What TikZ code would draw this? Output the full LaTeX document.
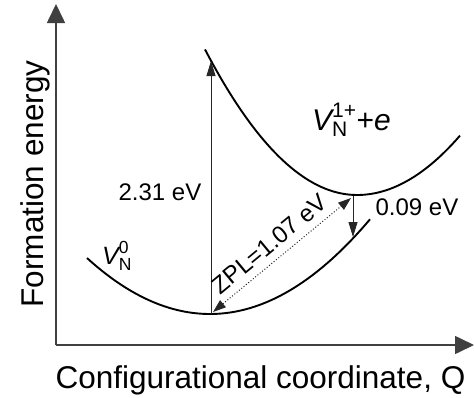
\documentclass[tikz,border=0pt]{standalone}
\usepackage{amsmath}
\usepackage{fontspec}
\setmainfont{Liberation Sans}
\usetikzlibrary{arrows.meta}
\definecolor{axisgray}{HTML}{404040}
\tikzset{
  axis/.style={line width=1.6pt, draw=axisgray, -{Triangle[length=19pt,width=18pt]}},
  curve/.style={line width=1.9pt, black},
  thinarrow/.style={line width=0.9pt, draw=black!85, -{Triangle[length=15pt,width=9pt]}},
  zplarrow/.style={line width=1pt, dotted, draw=black!85, {Triangle[length=13pt,width=9pt]}-{Triangle[length=13pt,width=9pt]}},
  biglabel/.style={font=\fontsize{31.5}{36}\selectfont, inner sep=0pt},
  vallabel/.style={font=\fontsize{24}{28}\selectfont, inner sep=0pt},
}
\begin{document}
\begin{tikzpicture}[x=1pt,y=-1pt]
\useasboundingbox (0,0) rectangle (474,397);
% axes
\coordinate (origin) at (56,345);
\coordinate (ytop) at (56,4);
\coordinate (xend) at (474,345);
\draw[axis] (origin) -- (ytop);
\draw[axis] (origin) -- (xend);
\node[biglabel, anchor=base] (xlab) at (260.5,388) {Configurational coordinate, Q};
\node[biglabel, anchor=base, rotate=90] (ylab) at (43,184) {Formation energy};
% curves
\draw[curve] plot[domain=87:370, samples=60, variable=\x] ({\x},{314-0.37*((\x-210)/10)^2});
\draw[curve] plot[domain=205:357, samples=40, variable=\x] ({\x},{195-0.63*((\x-357)/10)^2})
  -- plot[domain=357:460, samples=30, variable=\x] ({\x},{195-0.56*((\x-357)/10)^2});
% key points
\coordinate (lowmin) at (211,314);
\coordinate (upabs) at (211,61);
\coordinate (upmin) at (353,196);
\coordinate (lowrel) at (353,237);
\coordinate (zpllow) at (213,312);
\coordinate (zplup) at (351,198);
% arrows
\draw[thinarrow] (lowmin) -- (upabs);
\draw[thinarrow] (upmin) -- (lowrel);
\draw[zplarrow] (zpllow) -- (zplup);
% labels
\node[vallabel] (abs) at (160,192) {2.31 eV};
\node[vallabel] (rel) at (417,207) {0.09 eV};
\node[vallabel, rotate=39.6] (zpl) at (269.5,244) {ZPL=1.07 eV};
\node[font=\fontsize{30}{34}\selectfont, inner sep=0pt, anchor=base west] (vn1) at (312,130)
  {$\textit{V}^{\text{1+}}_{\text{N}}$+\textit{e}};
\node[font=\fontsize{25}{30}\selectfont, inner sep=0pt, anchor=base west] (vn0) at (102,264)
  {$\textit{V}^{\text{0}}_{\text{N}}$};
\end{tikzpicture}
\end{document}
